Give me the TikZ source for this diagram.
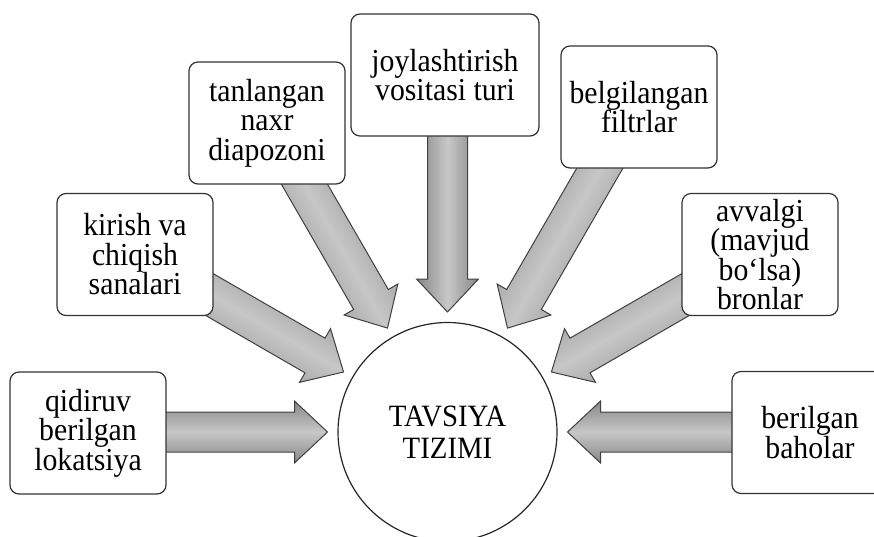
\documentclass[tikz,border=0pt]{standalone}
\usepackage{fontspec}
\setmainfont[FakeStretch=0.93]{Liberation Serif}
\begin{document}
\begin{tikzpicture}[x=1pt,y=-1pt,
  box/.style={draw=black!80, line width=1.2pt, rounded corners=9pt, fill=white,
    align=center, minimum width=156pt, minimum height=122pt, inner sep=0pt,
    font=\fontsize{32}{29.5}\selectfont},
  hub/.style={draw=black!85, line width=1.2pt, circle, fill=white,
    minimum size=219pt, inner sep=0pt, align=center,
    font=\fontsize{31}{32}\selectfont},
  barrow/.style={draw=black!75, line width=1pt, top color=black!47,
    bottom color=black!47, middle color=black!22}]
\useasboundingbox (0,0) rectangle (874,536);
\clip (0,0) rectangle (874,536);
\coordinate (c) at (447.5,432);
% block arrows toward the hub
\foreach \a in {0,30,...,180} {
  \begin{scope}[shift={(c)}, rotate=\a]
    \draw[barrow, shading angle=\a] (120,0) -- (153,31) -- (153,20) -- (320,20)
      -- (320,-20) -- (153,-20) -- (153,-31) -- cycle;
  \end{scope}
}
% boxes
\node[box] (q) at (88,433) {qidiruv\\berilgan\\lokatsiya};
\node[box] (k) at (135,254.5) {kirish va\\chiqish\\sanalari};
\node[box] (t) at (267,123) {tanlangan\\naxr\\diapozoni};
\node[box, minimum width=188pt] (j) at (445,75) {joylashtirish\\vositasi turi};
\node[box] (b) at (639,107) {belgilangan\\filtrlar};
\node[box] (v) at (760,254.5) {avvalgi\\(mavjud\\bo‘lsa)\\bronlar};
\node[box] (h) at (810,432.5) {berilgan\\baholar};
% hub
\node[hub] (hubc) at (c) {TAVSIYA\\TIZIMI};
\end{tikzpicture}
\end{document}
